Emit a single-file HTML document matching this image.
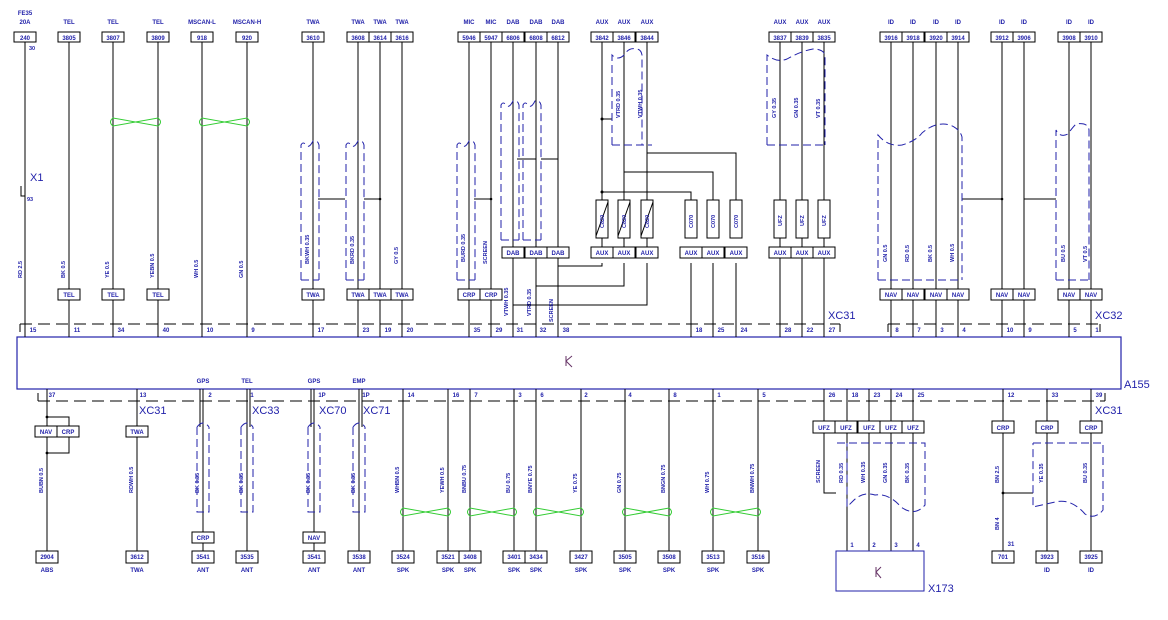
<!DOCTYPE html>
<html><head><meta charset="utf-8"><style>
html,body{margin:0;padding:0;background:#fff;width:1168px;height:620px;overflow:hidden}
svg{display:block}
text{font-family:"Liberation Sans",sans-serif;fill:#2222aa;font-weight:bold}
.t{font-size:6px;text-anchor:middle}
.v{font-size:5.5px}
.big{font-size:11px;font-weight:normal}
.w{stroke:#000;stroke-width:1;fill:none}
.bx{fill:#fff;stroke:#000;stroke-width:1}
.sh{stroke:#2222aa;stroke-width:1;fill:none;stroke-dasharray:8,4}
.dl{stroke:#000;stroke-width:1;fill:none;stroke-dasharray:12,6}
.g{stroke:#33cc33;stroke-width:1;fill:none}
</style></head><body>
<svg width="1168" height="620" viewBox="0 0 1168 620" xmlns="http://www.w3.org/2000/svg">
<rect x="17" y="337" width="1104" height="52" fill="none" stroke="#2222aa" stroke-width="1.2"/>
<text x="1124" y="388" class="big">A155</text>
<path d="M566 356 v10 M566 361 l6 -5 M566 361 l6 6" stroke="#663366" fill="none"/>
<path class="dl" d="M20 324 H840 M888 324 H1100"/>
<path class="w" d="M20 324 v8 M840 324 v8 M888 324 v8 M1100 324 v8"/>
<text x="828" y="319" class="big">XC31</text>
<text x="1095" y="319" class="big">XC32</text>
<path class="dl" d="M38 401 H1105"/>
<path class="w" d="M38 401 v-8 M1105 401 v-8"/>
<text x="1095" y="414" class="big">XC31</text>

<g class="w">
<path d="M25 42V337 M69 42V337 M113 42V337 M158 42V337 M202 42V337 M247 42V337 M313 42V337 M358 42V337 M380 42V337 M402 42V337"/>
<path d="M469 42V337 M491 42V337 M513 42V337 M536 42V337 M558 42V337"/>
<path d="M602 42V252 M624 42V252 M647 42V252 M602 263V266H558 M624 263V286H536 M647 263V305H513"/>
<path d="M691 200V192H602 M713 200V172H624 M736 200V153H647 M691 263V337 M713 263V337 M736 263V337"/>
<path d="M780 42V337 M802 42V337 M824 42V337"/>
<path d="M891 42V337 M913 42V337 M936 42V337 M958 42V337 M1002 42V337 M1024 42V337 M1069 42V337 M1091 42V337"/>
<path d="M318 199H345 M364 199H380 M474 199H491 M517 159H536 M541 159H558 M602 119H612 M962 199H1002 M1024 199H1056"/>
</g>
<g fill="#000"><circle cx="602" cy="192" r="1.5"/><circle cx="602" cy="119" r="1.5"/><circle cx="1002" cy="199" r="1.3"/><circle cx="380" cy="199" r="1.3"/><circle cx="491" cy="199" r="1.3"/></g>
<path d="M21 186v10h4" stroke="#000" fill="none"/>
<text x="30" y="181" class="big">X1</text>
<text x="30" y="201" class="t" style="font-size:5.5px">93</text>
<text x="32" y="50" class="t" style="font-size:5.5px">30</text>

<g class="t">
<text x="25" y="15">FE35</text><text x="25" y="24">20A</text>
<text x="69" y="24">TEL</text><text x="113" y="24">TEL</text><text x="158" y="24">TEL</text>
<text x="202" y="24">MSCAN-L</text><text x="247" y="24">MSCAN-H</text>
<text x="313" y="24">TWA</text><text x="358" y="24">TWA</text><text x="380" y="24">TWA</text><text x="402" y="24">TWA</text>
<text x="469" y="24">MIC</text><text x="491" y="24">MIC</text><text x="513" y="24">DAB</text><text x="536" y="24">DAB</text><text x="558" y="24">DAB</text>
<text x="602" y="24">AUX</text><text x="624" y="24">AUX</text><text x="647" y="24">AUX</text>
<text x="780" y="24">AUX</text><text x="802" y="24">AUX</text><text x="824" y="24">AUX</text>
<text x="891" y="24">ID</text><text x="913" y="24">ID</text><text x="936" y="24">ID</text><text x="958" y="24">ID</text>
<text x="1002" y="24">ID</text><text x="1024" y="24">ID</text><text x="1069" y="24">ID</text><text x="1091" y="24">ID</text>
</g>
<g class="bx">
<rect x="14" y="32" width="22" height="10"/><rect x="58" y="32" width="22" height="10"/><rect x="102" y="32" width="22" height="10"/><rect x="147" y="32" width="22" height="10"/><rect x="191" y="32" width="22" height="10"/><rect x="236" y="32" width="22" height="10"/>
<rect x="302" y="32" width="22" height="10"/><rect x="347" y="32" width="22" height="10"/><rect x="369" y="32" width="22" height="10"/><rect x="391" y="32" width="22" height="10"/>
<rect x="458" y="32" width="22" height="10"/><rect x="480" y="32" width="22" height="10"/><rect x="502" y="32" width="22" height="10"/><rect x="525" y="32" width="22" height="10"/><rect x="547" y="32" width="22" height="10"/>
<rect x="591" y="32" width="22" height="10"/><rect x="613" y="32" width="22" height="10"/><rect x="636" y="32" width="22" height="10"/>
<rect x="769" y="32" width="22" height="10"/><rect x="791" y="32" width="22" height="10"/><rect x="813" y="32" width="22" height="10"/>
<rect x="880" y="32" width="22" height="10"/><rect x="902" y="32" width="22" height="10"/><rect x="925" y="32" width="22" height="10"/><rect x="947" y="32" width="22" height="10"/>
<rect x="991" y="32" width="22" height="10"/><rect x="1013" y="32" width="22" height="10"/><rect x="1058" y="32" width="22" height="10"/><rect x="1080" y="32" width="22" height="10"/>
</g>
<g class="t">
<text x="25" y="40">240</text><text x="69" y="40">3805</text><text x="113" y="40">3807</text><text x="158" y="40">3809</text><text x="202" y="40">918</text><text x="247" y="40">920</text>
<text x="313" y="40">3610</text><text x="358" y="40">3608</text><text x="380" y="40">3614</text><text x="402" y="40">3616</text>
<text x="469" y="40">5946</text><text x="491" y="40">5947</text><text x="513" y="40">6806</text><text x="536" y="40">6808</text><text x="558" y="40">6812</text>
<text x="602" y="40">3842</text><text x="624" y="40">3846</text><text x="647" y="40">3844</text>
<text x="780" y="40">3837</text><text x="802" y="40">3839</text><text x="824" y="40">3835</text>
<text x="891" y="40">3916</text><text x="913" y="40">3918</text><text x="936" y="40">3920</text><text x="958" y="40">3914</text>
<text x="1002" y="40">3912</text><text x="1024" y="40">3906</text><text x="1069" y="40">3908</text><text x="1091" y="40">3910</text>
</g>
<g class="bx">
<rect x="58" y="289" width="22" height="11"/><rect x="102" y="289" width="22" height="11"/><rect x="147" y="289" width="22" height="11"/>
<rect x="302" y="289" width="22" height="11"/><rect x="347" y="289" width="22" height="11"/><rect x="369" y="289" width="22" height="11"/><rect x="391" y="289" width="22" height="11"/>
<rect x="458" y="289" width="22" height="11"/><rect x="480" y="289" width="22" height="11"/>
<rect x="502" y="247" width="22" height="11"/><rect x="525" y="247" width="22" height="11"/><rect x="547" y="247" width="22" height="11"/>
<rect x="591" y="247" width="22" height="11"/><rect x="613" y="247" width="22" height="11"/><rect x="636" y="247" width="22" height="11"/>
<rect x="680" y="247" width="22" height="11"/><rect x="702" y="247" width="22" height="11"/><rect x="725" y="247" width="22" height="11"/>
<rect x="769" y="247" width="22" height="11"/><rect x="791" y="247" width="22" height="11"/><rect x="813" y="247" width="22" height="11"/>
<rect x="880" y="289" width="22" height="11"/><rect x="902" y="289" width="22" height="11"/><rect x="925" y="289" width="22" height="11"/><rect x="947" y="289" width="22" height="11"/>
<rect x="991" y="289" width="22" height="11"/><rect x="1013" y="289" width="22" height="11"/><rect x="1058" y="289" width="22" height="11"/><rect x="1080" y="289" width="22" height="11"/>
<rect x="596" y="200" width="12" height="38"/><rect x="618" y="200" width="12" height="38"/><rect x="641" y="200" width="12" height="38"/>
<rect x="685" y="200" width="12" height="38"/><rect x="707" y="200" width="12" height="38"/><rect x="730" y="200" width="12" height="38"/>
<rect x="774" y="200" width="12" height="38"/><rect x="796" y="200" width="12" height="38"/><rect x="818" y="200" width="12" height="38"/>
</g>
<path class="w" d="M596 236L608 202 M618 236L630 202 M641 236L653 202"/>
<g class="t">
<text x="69" y="297">TEL</text><text x="113" y="297">TEL</text><text x="158" y="297">TEL</text>
<text x="313" y="297">TWA</text><text x="358" y="297">TWA</text><text x="380" y="297">TWA</text><text x="402" y="297">TWA</text>
<text x="469" y="297">CRP</text><text x="491" y="297">CRP</text>
<text x="513" y="255">DAB</text><text x="536" y="255">DAB</text><text x="558" y="255">DAB</text>
<text x="602" y="255">AUX</text><text x="624" y="255">AUX</text><text x="647" y="255">AUX</text>
<text x="691" y="255">AUX</text><text x="713" y="255">AUX</text><text x="736" y="255">AUX</text>
<text x="780" y="255">AUX</text><text x="802" y="255">AUX</text><text x="824" y="255">AUX</text>
<text x="891" y="297">NAV</text><text x="913" y="297">NAV</text><text x="936" y="297">NAV</text><text x="958" y="297">NAV</text>
<text x="1002" y="297">NAV</text><text x="1024" y="297">NAV</text><text x="1069" y="297">NAV</text><text x="1091" y="297">NAV</text>
</g>
<g class="v">
<text transform="translate(604,228) rotate(-90)">C820</text><text transform="translate(626,228) rotate(-90)">C820</text><text transform="translate(649,228) rotate(-90)">C820</text>
<text transform="translate(693,228) rotate(-90)">C070</text><text transform="translate(715,228) rotate(-90)">C070</text><text transform="translate(738,228) rotate(-90)">C070</text>
<text transform="translate(782,226) rotate(-90)">UFZ</text><text transform="translate(804,226) rotate(-90)">UFZ</text><text transform="translate(826,226) rotate(-90)">UFZ</text>
</g>
<g class="t">
<text x="33" y="332">15</text><text x="77" y="332">11</text><text x="121" y="332">34</text><text x="166" y="332">40</text><text x="210" y="332">10</text><text x="253" y="332">9</text>
<text x="321" y="332">17</text><text x="366" y="332">23</text><text x="388" y="332">19</text><text x="410" y="332">20</text>
<text x="477" y="332">35</text><text x="499" y="332">29</text><text x="520" y="332">31</text><text x="543" y="332">32</text><text x="566" y="332">38</text>
<text x="699" y="332">18</text><text x="721" y="332">25</text><text x="744" y="332">24</text>
<text x="788" y="332">28</text><text x="810" y="332">22</text><text x="832" y="332">27</text>
<text x="897" y="332">8</text><text x="919" y="332">7</text><text x="942" y="332">3</text><text x="964" y="332">4</text>
<text x="1010" y="332">10</text><text x="1030" y="332">9</text><text x="1075" y="332">5</text><text x="1097" y="332">1</text>
</g>
<g class="v">
<text transform="translate(22,278) rotate(-90)">RD 2.5</text>
<text transform="translate(65,278) rotate(-90)">BK 0.5</text>
<text transform="translate(109,278) rotate(-90)">YE 0.5</text>
<text transform="translate(154,278) rotate(-90)">YEBN 0.5</text>
<text transform="translate(198,278) rotate(-90)">WH 0.5</text>
<text transform="translate(243,278) rotate(-90)">GN 0.5</text>
<text transform="translate(309,264) rotate(-90)">BKWH 0.35</text>
<text transform="translate(354,264) rotate(-90)">BKRD 0.35</text>
<text transform="translate(398,264) rotate(-90)">GY 0.5</text>
<text transform="translate(465,262) rotate(-90)">BURD 0.35</text>
<text transform="translate(487,264) rotate(-90)">SCREEN</text>
<text transform="translate(508,316) rotate(-90)">VTWH 0.35</text>
<text transform="translate(531,316) rotate(-90)">VTRD 0.35</text>
<text transform="translate(553,322) rotate(-90)">SCREEN</text>
<text transform="translate(620,118) rotate(-90)">VTRD 0.35</text>
<text transform="translate(642,118) rotate(-90)">VTWH 0.35</text>
<text transform="translate(776,118) rotate(-90)">GY 0.35</text>
<text transform="translate(798,118) rotate(-90)">GN 0.35</text>
<text transform="translate(820,118) rotate(-90)">VT 0.35</text>
<text transform="translate(887,262) rotate(-90)">GN 0.5</text>
<text transform="translate(909,262) rotate(-90)">RD 0.5</text>
<text transform="translate(932,262) rotate(-90)">BK 0.5</text>
<text transform="translate(954,262) rotate(-90)">WH 0.5</text>
<text transform="translate(1065,262) rotate(-90)">BU 0.5</text>
<text transform="translate(1087,262) rotate(-90)">VT 0.5</text>
</g>
<path class="g" d="M113 118 Q108 122 113 126 L158 118 Q163 122 158 126 L113 118 Z M202 118 Q197 122 202 126 L247 118 Q252 122 247 126 L202 118 Z"/>
<g class="sh">
<path d="M301 280V145q2 -4 5 0 q3 4 7 -4 q5 -1 6 4 V280 M301 280h18"/>
<path d="M346 280V145q2 -4 5 0 q3 4 7 -4 q5 -1 6 4 V280 M346 280h18"/>
<path d="M457 280V145q2 -4 5 0 q3 4 7 -4 q5 -1 6 4 V280 M457 280h18"/>
<path d="M501 240V105q2 -4 5 0 q3 4 7 -4 q5 -1 6 4 V240 M501 240h18"/>
<path d="M523 240V105q2 -4 5 0 q3 4 7 -4 q5 -1 6 4 V240 M523 240h18"/>
<path d="M612 145V55q6 6 12 0 q5 -8 12 -6 q5 0 6 6 V145 M612 145h40"/>
<path d="M767 145V55q10 8 20 4 q14 -8 26 -10 q10 0 12 6 V145 M767 145h60"/>
<path d="M878 280V135q10 12 24 10 q14 -4 20 -12 q14 -12 28 -8 q10 4 12 12 V280 M878 280h82"/>
<path d="M1056 280V130q4 8 12 4 q4 -6 8 -10 q12 -2 13 6 V280 M1056 280h34"/>
</g>

<g class="w">
<path d="M47 389V551 M137 389V551 M203 389V551 M247 389V551 M314 389V551 M359 389V551"/>
<path d="M403 389V551 M448 389V551 M470 389V551 M514 389V551 M536 389V551 M581 389V551 M625 389V551 M669 389V551 M713 389V551 M758 389V551"/>
<path d="M47 417H69V426 M69 437V453H47 M824 389V493H836 M847 389V551 M869 389V551 M891 389V551 M913 389V551"/>
<path d="M1003 389V551 M1047 389V551 M1091 389V551 M1003 493H1033"/>
<path d="M200 389v38 M250 389v38 M311 389v38 M362 389v38"/>
</g>
<g fill="#000"><circle cx="47" cy="417" r="1.4"/><circle cx="47" cy="453" r="1.4"/><circle cx="1003" cy="493" r="1.4"/></g>
<g class="t">
<text x="203" y="383">GPS</text><text x="247" y="383">TEL</text><text x="314" y="383">GPS</text><text x="359" y="383">EMP</text>
<text x="52" y="397">37</text><text x="143" y="397">13</text><text x="210" y="397">2</text><text x="252" y="397">1</text><text x="322" y="397">1P</text><text x="366" y="397">1P</text>
<text x="411" y="397">14</text><text x="456" y="397">16</text><text x="476" y="397">7</text><text x="520" y="397">3</text><text x="542" y="397">6</text><text x="586" y="397">2</text>
<text x="630" y="397">4</text><text x="675" y="397">8</text><text x="719" y="397">1</text><text x="764" y="397">5</text>
<text x="832" y="397">26</text><text x="855" y="397">18</text><text x="877" y="397">23</text><text x="899" y="397">24</text><text x="921" y="397">25</text>
<text x="1011" y="397">12</text><text x="1055" y="397">33</text><text x="1099" y="397">39</text>
</g>
<g class="big"><text x="139" y="414" class="big">XC31</text><text x="252" y="414" class="big">XC33</text><text x="319" y="414" class="big">XC70</text><text x="363" y="414" class="big">XC71</text></g>
<g class="bx">
<rect x="35" y="426" width="22" height="11"/><rect x="57" y="426" width="22" height="11"/><rect x="126" y="426" width="22" height="11"/>
<rect x="192" y="532" width="22" height="11"/><rect x="303" y="532" width="22" height="11"/>
<rect x="813" y="421" width="22" height="12"/><rect x="835" y="421" width="22" height="12"/><rect x="858" y="421" width="22" height="12"/><rect x="880" y="421" width="22" height="12"/><rect x="902" y="421" width="22" height="12"/>
<rect x="992" y="421" width="22" height="12"/><rect x="1036" y="421" width="22" height="12"/><rect x="1080" y="421" width="22" height="12"/>
<rect x="836" y="551" width="88" height="40" style="stroke:#2222aa"/>
</g>
<path d="M876 567 v10 M876 572 l5 -5 M876 572 l5 6" stroke="#663366" fill="none"/>
<text x="928" y="592" class="big">X173</text>
<g class="t">
<text x="46" y="434">NAV</text><text x="68" y="434">CRP</text><text x="137" y="434">TWA</text>
<text x="203" y="540">CRP</text><text x="314" y="540">NAV</text>
<text x="824" y="430">UFZ</text><text x="846" y="430">UFZ</text><text x="869" y="430">UFZ</text><text x="891" y="430">UFZ</text><text x="913" y="430">UFZ</text>
<text x="1003" y="430">CRP</text><text x="1047" y="430">CRP</text><text x="1091" y="430">CRP</text>
<text x="852" y="547">1</text><text x="874" y="547">2</text><text x="896" y="547">3</text><text x="918" y="547">4</text>
<text x="1011" y="546">31</text>
</g>
<g class="bx">
<rect x="36" y="551" width="22" height="12"/><rect x="126" y="551" width="22" height="12"/><rect x="192" y="551" width="22" height="12"/><rect x="236" y="551" width="22" height="12"/><rect x="303" y="551" width="22" height="12"/><rect x="348" y="551" width="22" height="12"/>
<rect x="392" y="551" width="22" height="12"/><rect x="437" y="551" width="22" height="12"/><rect x="459" y="551" width="22" height="12"/><rect x="503" y="551" width="22" height="12"/><rect x="525" y="551" width="22" height="12"/><rect x="570" y="551" width="22" height="12"/>
<rect x="614" y="551" width="22" height="12"/><rect x="658" y="551" width="22" height="12"/><rect x="702" y="551" width="22" height="12"/><rect x="747" y="551" width="22" height="12"/>
<rect x="992" y="551" width="22" height="12"/><rect x="1036" y="551" width="22" height="12"/><rect x="1080" y="551" width="22" height="12"/>
</g>
<g class="t">
<text x="47" y="559">2904</text><text x="137" y="559">3612</text><text x="203" y="559">3541</text><text x="247" y="559">3535</text><text x="314" y="559">3541</text><text x="359" y="559">3538</text>
<text x="403" y="559">3524</text><text x="448" y="559">3521</text><text x="470" y="559">3408</text><text x="514" y="559">3401</text><text x="536" y="559">3434</text><text x="581" y="559">3427</text>
<text x="625" y="559">3505</text><text x="669" y="559">3508</text><text x="713" y="559">3513</text><text x="758" y="559">3516</text>
<text x="1003" y="559">701</text><text x="1047" y="559">3923</text><text x="1091" y="559">3925</text>
<text x="47" y="572">ABS</text><text x="137" y="572">TWA</text><text x="203" y="572">ANT</text><text x="247" y="572">ANT</text><text x="314" y="572">ANT</text><text x="359" y="572">ANT</text>
<text x="403" y="572">SPK</text><text x="448" y="572">SPK</text><text x="470" y="572">SPK</text><text x="514" y="572">SPK</text><text x="536" y="572">SPK</text><text x="581" y="572">SPK</text>
<text x="625" y="572">SPK</text><text x="669" y="572">SPK</text><text x="713" y="572">SPK</text><text x="758" y="572">SPK</text>
<text x="1047" y="572">ID</text><text x="1091" y="572">ID</text>
</g>
<g class="v">
<text transform="translate(43,493) rotate(-90)">BUBN 0.5</text>
<text transform="translate(133,493) rotate(-90)">RDWH 0.5</text>
<text transform="translate(199,493) rotate(-90)">BK 0.35</text>
<text transform="translate(243,493) rotate(-90)">BK 0.35</text>
<text transform="translate(310,493) rotate(-90)">BK 0.35</text>
<text transform="translate(355,493) rotate(-90)">BK 0.35</text>
<text transform="translate(399,493) rotate(-90)">WHBN 0.5</text>
<text transform="translate(444,493) rotate(-90)">YEWH 0.5</text>
<text transform="translate(466,493) rotate(-90)">BNBU 0.75</text>
<text transform="translate(510,493) rotate(-90)">BU 0.75</text>
<text transform="translate(532,493) rotate(-90)">BNYE 0.75</text>
<text transform="translate(577,493) rotate(-90)">YE 0.75</text>
<text transform="translate(621,493) rotate(-90)">GN 0.75</text>
<text transform="translate(665,493) rotate(-90)">BNGN 0.75</text>
<text transform="translate(709,493) rotate(-90)">WH 0.75</text>
<text transform="translate(754,493) rotate(-90)">BNWH 0.75</text>
<text transform="translate(820,483) rotate(-90)">SCREEN</text>
<text transform="translate(843,483) rotate(-90)">RD 0.35</text>
<text transform="translate(865,483) rotate(-90)">WH 0.35</text>
<text transform="translate(887,483) rotate(-90)">GN 0.35</text>
<text transform="translate(909,483) rotate(-90)">BK 0.35</text>
<text transform="translate(999,483) rotate(-90)">BN 2.5</text>
<text transform="translate(999,530) rotate(-90)">BN 4</text>
<text transform="translate(1043,483) rotate(-90)">YE 0.35</text>
<text transform="translate(1087,483) rotate(-90)">BU 0.35</text>
</g>
<path class="g" d="M403 508 Q398 512 403 516 L448 508 Q453 512 448 516 L403 508 Z M470 508 Q465 512 470 516 L514 508 Q519 512 514 516 L470 508 Z M536 508 Q531 512 536 516 L581 508 Q586 512 581 516 L536 508 Z M625 508 Q620 512 625 516 L669 508 Q674 512 669 516 L625 508 Z M713 508 Q708 512 713 516 L758 508 Q763 512 758 516 L713 508 Z"/>
<g class="sh">
<path d="M197 427V512h12V427 M197 427q6 -8 12 0 M241 427V512h12V427 M241 427q6 -8 12 0 M308 427V512h12V427 M308 427q6 -8 12 0 M353 427V512h12V427 M353 427q6 -8 12 0"/>
<path d="M837 443H925V505 q-10 12 -24 2 q-12 -14 -26 -12 q-12 -4 -22 6 l-6 6 V443"/>
<path d="M1033 443H1103V510 q-8 10 -18 4 q-14 -16 -30 -12 l-22 5 V443"/>
</g>
</svg>
</body></html>
